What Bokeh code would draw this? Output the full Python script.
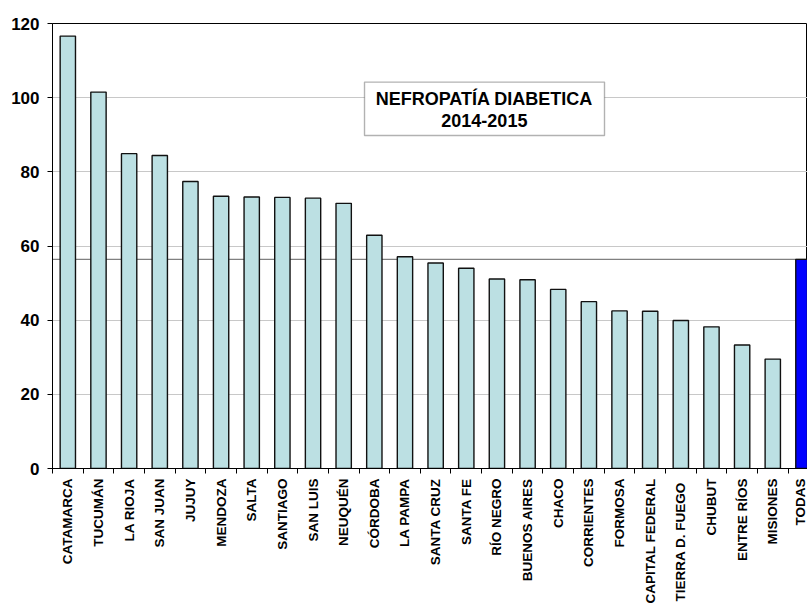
from math import pi
from bokeh.plotting import figure
from bokeh.models import (ColumnDataSource, FixedTicker, Span, BoxAnnotation,
                          Label, Range1d)
from bokeh.embed import file_html
from bokeh.resources import INLINE

# ---------------- data ----------------
provinces = ["CATAMARCA", "TUCUMÁN", "LA RIOJA", "SAN JUAN", "JUJUY", "MENDOZA",
             "SALTA", "SANTIAGO", "SAN LUIS", "NEUQUÉN", "CÓRDOBA", "LA PAMPA",
             "SANTA CRUZ", "SANTA FE", "RÍO NEGRO", "BUENOS AIRES", "CHACO",
             "CORRIENTES", "FORMOSA", "CAPITAL FEDERAL", "TIERRA  D. FUEGO",
             "CHUBUT", "ENTRE RÍOS", "MISIONES", "TODAS"]
rates = [116.6, 101.5, 84.9, 84.4, 77.4, 73.4,
         73.2, 73.1, 72.9, 71.5, 62.9, 57.1,
         55.4, 54.0, 51.1, 50.9, 48.3,
         45.0, 42.5, 42.4, 39.9,
         38.2, 33.3, 29.5, 56.4]
y_ticks = [0, 20, 40, 60, 80, 100, 120]
title_lines = ["NEFROPATÍA DIABETICA", "2014-2015"]
total_label = "TODAS"

FONT = "Liberation Sans"
CYAN = "#BCE0E3"
BLUE = "#0000FF"

n = len(provinces)
xs = list(range(n))
colors = [BLUE if name == total_label else CYAN for name in provinces]
src = ColumnDataSource(dict(x=xs, top=rates, name=provinces, color=colors))

p = figure(width=807, height=606, output_backend="svg", toolbar_location=None,
           x_range=Range1d(-0.5, -0.5 + 755 / 30.65), y_range=Range1d(0, 120),
           min_border_left=52, min_border_right=0, min_border_top=23,
           min_border_bottom=138)

p.background_fill_color = "white"
p.border_fill_color = "white"
p.outline_line_color = "black"
p.outline_line_width = 1

# grid
p.xgrid.visible = False
p.ygrid.grid_line_color = "#c8c8c8"
p.ygrid.grid_line_width = 1

# average dotted line (behind bars)
avg = rates[provinces.index(total_label)]
p.add_layout(Span(location=avg, dimension="width", line_color="black",
                  line_dash="1 1", line_width=1.2, level="underlay"))

# bars
p.vbar(x="x", top="top", width=0.5, source=src, fill_color="color",
       line_color="#111111", line_width=1.4)

# x axis: labels at category centres, tick marks between categories
xa = p.xaxis[0]
xa.ticker = FixedTicker(ticks=xs, minor_ticks=[i - 0.5 for i in range(n + 1)])
xa.major_label_overrides = {i: name for i, name in zip(xs, provinces)}
xa.major_label_orientation = pi / 2
xa.major_label_standoff = 5
xa.major_label_text_font = FONT
xa.major_label_text_font_style = "bold"
xa.major_label_text_font_size = "13.5px"
xa.major_label_text_color = "black"
xa.axis_line_color = "black"
xa.major_tick_line_color = None
xa.major_tick_out = 0
xa.major_tick_in = 0
xa.minor_tick_line_color = "black"
xa.minor_tick_out = 5
xa.minor_tick_in = 0

# y axis
ya = p.yaxis[0]
ya.ticker = FixedTicker(ticks=y_ticks)
ya.axis_line_color = "black"
ya.major_tick_line_color = "black"
ya.major_tick_out = 5
ya.major_tick_in = 0
ya.minor_tick_line_color = None
ya.major_label_standoff = 8
ya.major_label_text_font = FONT
ya.major_label_text_font_style = "bold"
ya.major_label_text_font_size = "17px"
ya.major_label_text_color = "black"

# title box
p.add_layout(BoxAnnotation(left=9.68, right=17.51, top=104.2, bottom=89.8,
                           fill_color="white", fill_alpha=1.0,
                           line_color="black", line_width=1.4))
for txt, yy in zip(title_lines, [99.7, 93.85]):
    p.add_layout(Label(x=13.59, y=yy, text=txt, text_align="center",
                       text_baseline="middle", text_font=FONT,
                       text_font_style="bold", text_font_size="18px",
                       text_color="black"))

open("out.html", "w").write(file_html(p, INLINE))
